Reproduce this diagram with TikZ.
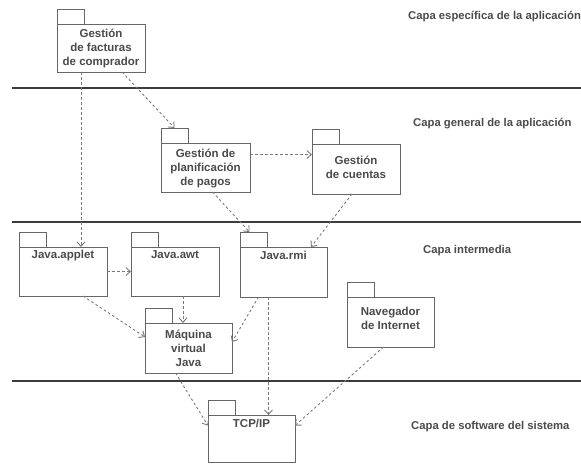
\documentclass[tikz,border=0pt]{standalone}
\usepackage{fontspec}
\setmainfont{Liberation Sans}
\usetikzlibrary{arrows.meta,calc}
\definecolor{inkgray}{HTML}{4A4A4A}
\definecolor{boxgray}{HTML}{666666}
\definecolor{rulegray}{HTML}{3C3C3C}
\definecolor{dashgray}{HTML}{7A7A7A}
\tikzset{
  pkgbody/.style={draw=boxgray, line width=0.9pt, rectangle, inner sep=0pt, outer sep=0pt, anchor=north west},
  pkgtab/.style={draw=boxgray, line width=0.9pt},
  pkgtext/.style={text=inkgray, font=\bfseries\fontsize{11.5}{14.3}\selectfont, align=center, inner sep=0pt, anchor=north},
  layerrule/.style={draw=rulegray, line width=1.8pt},
  layername/.style={text=inkgray, font=\bfseries\fontsize{11.3}{14}\selectfont, inner sep=0pt, anchor=base west},
  dep/.style={draw=dashgray, line width=0.9pt, dash pattern=on 2.5pt off 2.5pt, -{Straight Barb[length=4.5pt,width=8pt]}},
}
% UML package: name, left, top of body, width, height, text drop, text
\newcommand\umlpkg[7]{%
  \node[pkgbody, minimum width=#4pt, minimum height=#5pt] (#1) at (#2,#3) {};
  \draw[pkgtab] (#1.north west) -- ++(0,-15) -- ++(27,0) -- ++(0,15);
  \coordinate (#1-tab) at ($(#1.north west)+(13.5,-15)$);
  \node[pkgtext] (#1-label) at ([yshift=-#6pt]#1.north) {\rule{0pt}{9pt}#7};
}
\begin{document}
\begin{tikzpicture}[x=1pt,y=-1pt]
  \useasboundingbox (0,0) rectangle (581,464);

  % layer separators
  \draw[layerrule] (12,88) -- (581,88);
  \draw[layerrule] (12,222) -- (581,222);
  \draw[layerrule] (12,381) -- (581,381);

  % layer names
  \node[layername] (l1) at (408,19) {Capa específica de la aplicación};
  \node[layername] (l2) at (413,126) {Capa general de la aplicación};
  \node[layername] (l3) at (423,253) {Capa intermedia};
  \node[layername] (l4) at (411,429) {Capa de software del sistema};

  % packages
  \umlpkg{facturas}{57}{24}{88}{48}{4}{Gestión\\de facturas\\de comprador}
  \umlpkg{planif}{161}{143}{89}{49}{5}{Gestión de\\planificación\\de pagos}
  \umlpkg{cuentas}{312}{144}{88}{50}{11}{Gestión\\de cuentas}
  \umlpkg{applet}{19}{247}{88}{49}{2}{Java.applet}
  \umlpkg{awt}{131}{247}{88}{49}{2}{Java.awt}
  \umlpkg{rmi}{240}{247}{87}{50}{3}{Java.rmi}
  \umlpkg{maquina}{145}{323}{87}{50}{6}{Máquina\\virtual\\Java}
  \umlpkg{navegador}{347}{297}{87}{50}{9}{Navegador\\de Internet}
  \umlpkg{tcp}{208}{415}{87}{47}{3}{TCP/IP}

  % dependencies
  \draw[dep] ([xshift=-20pt]facturas.south) -- ([xshift=18pt]applet.north);
  \draw[dep] ([xshift=21pt]facturas.south) -- (planif-tab);
  \draw[dep] ([yshift=13pt]planif.east) -- ([yshift=13pt]planif.east -| cuentas.west);
  \draw[dep] ([xshift=7pt]planif.south) -- ([xshift=-4pt]rmi-tab);
  \draw[dep] ([xshift=-4pt]cuentas.south) -- ([xshift=-16pt]rmi.north east);
  \draw[dep] (applet.east) -- (applet.east -| awt.west);
  \draw[dep] ([xshift=8pt]awt.south) -- ([xshift=8pt]awt.south |- maquina.north);
  \draw[dep] ([xshift=20pt]applet.south) -- ([yshift=11pt]maquina.west);
  \draw[dep] ([xshift=-25pt]rmi.south) -- ([yshift=6pt]maquina.east);
  \draw[dep] ([xshift=-15pt]rmi.south) -- ([xshift=-15pt]rmi.south |- tcp.north);
  \draw[dep] ([xshift=-13pt]maquina.south) -- ([yshift=13pt]tcp.west);
  \draw[dep] ([xshift=-7pt]navegador.south) -- ([yshift=13pt]tcp.east);
\end{tikzpicture}
\end{document}
